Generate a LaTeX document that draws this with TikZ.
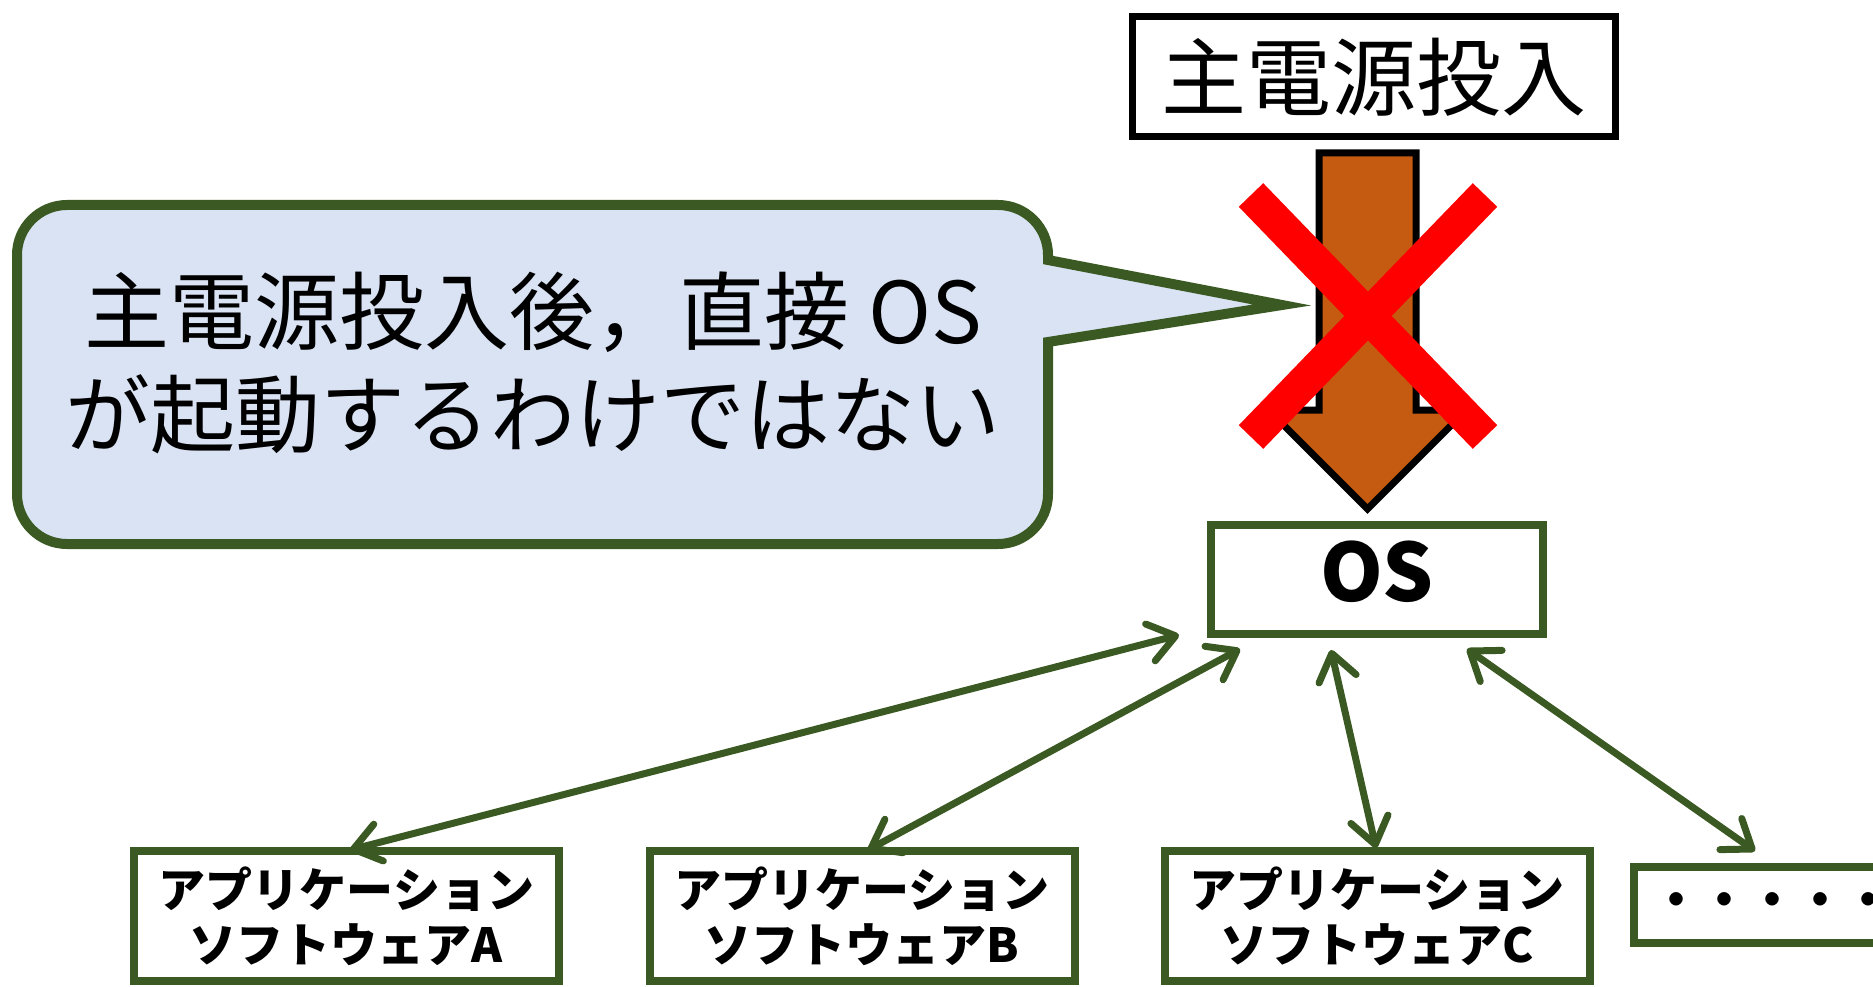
\documentclass[tikz,border=0pt]{standalone}
\usepackage{fontspec}
\newfontfamily\jp{Noto Sans CJK JP}
\usetikzlibrary{arrows.meta}
\definecolor{dkgreen}{HTML}{3B5A23}
\definecolor{callfill}{HTML}{DAE3F3}
\definecolor{arrowbrown}{HTML}{C55A11}
\definecolor{xred}{HTML}{FF0000}
\tikzset{
  greenbox/.style={draw=dkgreen, line width=8pt, fill=white, inner sep=0pt, outer sep=0pt},
  appbox/.style={greenbox, minimum width=425pt, minimum height=130pt, align=center,
    font=\jp\bfseries\fontsize{47}{55}\selectfont},
  link/.style={draw=dkgreen, line width=7pt, line cap=round,
    arrows={Straight Barb[length=26pt,width=38pt,round]-Straight Barb[length=26pt,width=38pt,round]}},
  bigtext/.style={font=\jp\fontsize{85}{103}\selectfont}
}
\begin{document}
\begin{tikzpicture}[x=1pt,y=-1pt]
\fill[white] (0,0) rectangle (1873,987);
\useasboundingbox (0,0) rectangle (1873,987);

% power box
\node[draw=black, line width=7pt, fill=white, inner sep=0pt, outer sep=0pt,
      minimum width=483pt, minimum height=120pt, bigtext] (power) at (1373.5,77) {主電源投入};

% block arrow
\draw[line width=7pt, fill=arrowbrown, line join=miter]
  (1319,153) -- (1416,153) -- (1416,410) -- (1466.5,410) -- (1367.5,509)
  -- (1268.5,410) -- (1319,410) -- cycle;

% callout
\draw[draw=dkgreen, fill=callfill, line width=10pt, line join=miter]
  (1282,305) -- (1048,342) -- (1048,494)
  .. controls (1048,521.6) and (1025.6,544) .. (998,544) -- (67,544)
  .. controls (39.4,544) and (17,521.6) .. (17,494) -- (17,255)
  .. controls (17,227.4) and (39.4,205) .. (67,205) -- (998,205)
  .. controls (1025.6,205) and (1048,227.4) .. (1048,255) -- (1048,260) -- cycle;
\node[bigtext, align=center, inner sep=0pt] (note) at (533,362.5)
  {主電源投入後，直接 OS\\が起動するわけではない};

% red cross
\draw[xred, line width=34pt] (1251,195) -- (1485,437);
\draw[xred, line width=34pt] (1485,195) -- (1251,437);

% OS box
\node[greenbox, minimum width=332pt, minimum height=109pt, text height=59pt, text depth=16pt,
      font=\jp\bfseries\fontsize{80}{90}\selectfont] (os) at (1377,579.5) {OS};

% application boxes
\node[appbox] (appA) at (346.5,916) {アプリケーション\\ソフトウェアA};
\node[appbox] (appB) at (862,916) {アプリケーション\\ソフトウェアB};
\node[appbox] (appC) at (1377,916) {アプリケーション\\ソフトウェアC};
\node[greenbox, minimum width=276pt, minimum height=76pt,
      font=\jp\bfseries\fontsize{48}{55}\selectfont] (more) at (1772,905) {・・・・・};

% links
\draw[link] ([shift={(-32,1)}]os.south west) -- ([shift={(3.5,-1)}]appA.north);
\draw[link] ([shift={(29,15)}]os.south west) -- ([shift={(6,-1)}]appB.north);
\draw[link] ([shift={(120,16)}]os.south west) -- ([shift={(-1,-3)}]appC.north);
\draw[link] ([shift={(256,15)}]os.south west) -- ([shift={(121,-16)}]more.north west);
\end{tikzpicture}
\end{document}
